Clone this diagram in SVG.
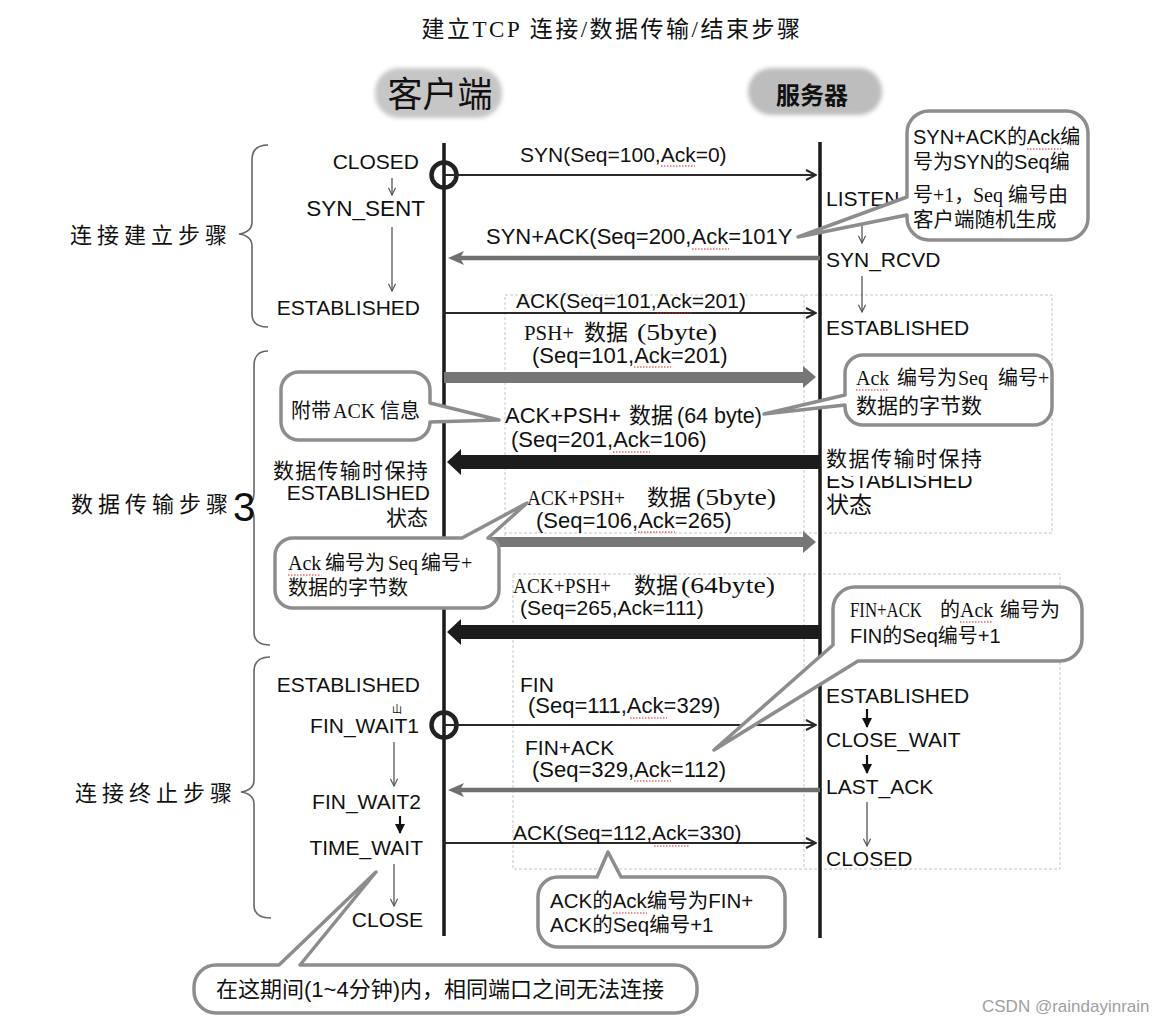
<svg xmlns="http://www.w3.org/2000/svg" width="1171" height="1028" viewBox="0 0 1171 1028">
<defs>
<style>
text{font-family:"Liberation Sans",Arial,"Noto Sans CJK SC",sans-serif;fill:#111}
.sf{font-family:"Liberation Serif","Times New Roman","Noto Sans CJK SC",serif}
.st{font-size:21px}
.m{font-size:21px}
.m2{font-size:22px}
.co{font-size:20px}
.life{stroke:#1a1a1a;stroke-width:3.5}
.thin{stroke:#2a2a2a;stroke-width:2;fill:none}
.gmsg{stroke:#707070;stroke-width:4.5;fill:none}
.sarr{stroke:#555;stroke-width:1.3;fill:none}
.barr{stroke:#111;stroke-width:2.2;fill:none}
.callout{fill:#fff;stroke:#8d8d8d;stroke-width:3.5;stroke-linejoin:round}
.brace{fill:none;stroke:#666;stroke-width:1.6}
.dash{fill:none;stroke:#c4c4c4;stroke-width:1;stroke-dasharray:3 2}
.red{fill:none;stroke:#d22;stroke-width:1.2;stroke-dasharray:1.5 1.5}
.ring{fill:none;stroke:#222;stroke-width:4.5}
</style>
<marker id="chev" viewBox="0 0 12 12" refX="11" refY="6" markerWidth="12" markerHeight="12" markerUnits="userSpaceOnUse" orient="auto"><path d="M1,1 L11,6 L1,11" fill="none" stroke="#2a2a2a" stroke-width="2"/></marker>
<marker id="tri" viewBox="0 0 16 14" refX="6" refY="7" markerWidth="16" markerHeight="14" markerUnits="userSpaceOnUse" orient="auto"><path d="M0,0 L16,7 L0,14 L4,7 Z" fill="#707070"/></marker>
<marker id="schev" viewBox="0 0 10 10" refX="9" refY="5" markerWidth="9" markerHeight="9" markerUnits="userSpaceOnUse" orient="auto"><path d="M1,1 L9,5 L1,9" fill="none" stroke="#555" stroke-width="1.3"/></marker>
<marker id="btri" viewBox="0 0 10 10" refX="9" refY="5" markerWidth="10" markerHeight="10" markerUnits="userSpaceOnUse" orient="auto"><path d="M0,0 L10,5 L0,10 Z" fill="#111"/></marker>
<filter id="soft" x="-10%" y="-20%" width="120%" height="140%"><feGaussianBlur stdDeviation="2"/></filter>
</defs>
<rect width="1171" height="1028" fill="#fff"/>

<g id="title"><text class="sf" x="612" y="37" text-anchor="middle" font-size="23" letter-spacing="2.5">建立TCP 连接/数据传输/结束步骤</text></g>

<g id="client-header">
<rect x="375" y="68" width="127" height="50" rx="24" fill="#c6c6c6" filter="url(#soft)"/>
<text x="440" y="107" text-anchor="middle" font-size="35" style="font-family:'Noto Sans CJK SC',sans-serif">客户端</text>
</g>
<g id="server-header">
<rect x="748" y="68" width="134" height="47" rx="23" fill="#bdbdbd" filter="url(#soft)"/>
<text x="812" y="104" text-anchor="middle" font-size="24" font-weight="bold" style="font-family:'Noto Sans CJK SC',sans-serif">服务器</text>
</g>

<g id="selection-boxes">
<rect class="dash" x="505" y="295" width="547" height="238"/>
<line class="dash" x1="804" y1="295" x2="804" y2="543"/>
<polyline class="dash" points="505,533 505,543 804,543"/>
<rect class="dash" x="513" y="574" width="547" height="295"/>
<line class="dash" x1="804" y1="574" x2="804" y2="869"/>
</g>

<g id="brackets">
<path class="brace" d="M268,145 C257,145 252,150 252,160 L252,222 C252,230 246,233 239,234 C246,235 252,238 252,246 L252,314 C252,323 257,327 268,327"/>
<path class="brace" d="M268,351 C259,351 254,356 254,366 L254,494 C254,502 248,505 244,506 C248,507 254,510 254,518 L254,632 C254,641 259,645 270,645"/>
<path class="brace" d="M270,657 C260,657 254,662 254,672 L254,780 C254,788 248,791 241,792 C248,793 254,796 254,804 L254,905 C254,914 260,918 271,918"/>
<text x="70" y="243" font-size="22" letter-spacing="5">连接建立步骤</text>
<text x="71" y="512" font-size="22" letter-spacing="5">数据传输步骤</text>
<text x="233" y="521" font-size="40">3</text>
<text x="75" y="801" font-size="22" letter-spacing="5">连接终止步骤</text>
</g>

<g id="connectors">
<line class="life" x1="444" y1="143" x2="444" y2="936"/>
<line class="life" x1="820" y1="142" x2="820" y2="938"/>
<circle class="ring" cx="444" cy="175" r="12.5"/>
<circle class="ring" cx="444" cy="725" r="12.5"/>
<line class="thin" x1="444" y1="175" x2="816" y2="175" marker-end="url(#chev)"/>
<line class="gmsg" x1="820" y1="258" x2="458" y2="258" marker-end="url(#tri)"/>
<line class="thin" x1="444" y1="313" x2="816" y2="313" marker-end="url(#chev)"/>
<path d="M444,372 H803 V366 L816,377 L803,388 V383 H444 Z" fill="#767676"/>
<path d="M820,455 H461 V449 L447,462 L461,475 V469 H820 Z" fill="#1c1c1c"/>
<path d="M444,537 H803 V531 L816,542 L803,553 V547 H444 Z" fill="#767676"/>
<path d="M820,625 H461 V619 L447,632 L461,645 V639 H820 Z" fill="#1c1c1c"/>
<line class="thin" x1="444" y1="725" x2="816" y2="725" marker-end="url(#chev)"/>
<line class="gmsg" x1="820" y1="790" x2="458" y2="790" marker-end="url(#tri)"/>
<line class="thin" x1="444" y1="843" x2="816" y2="843" marker-end="url(#chev)"/>
<line class="sarr" x1="392" y1="178" x2="392" y2="195" marker-end="url(#schev)"/>
<line class="sarr" x1="392" y1="227" x2="392" y2="291" marker-end="url(#schev)"/>
<line class="sarr" x1="394" y1="742" x2="394" y2="786" marker-end="url(#schev)"/>
<line class="barr" x1="400" y1="816" x2="400" y2="833" marker-end="url(#btri)"/>
<line class="sarr" x1="394" y1="864" x2="394" y2="906" marker-end="url(#schev)"/>
<line class="sarr" x1="862" y1="225" x2="862" y2="243" marker-end="url(#schev)"/>
<line class="sarr" x1="862" y1="276" x2="862" y2="312" marker-end="url(#schev)"/>
<line class="barr" x1="867" y1="709" x2="867" y2="727" marker-end="url(#btri)"/>
<line class="barr" x1="867" y1="755" x2="867" y2="773" marker-end="url(#btri)"/>
<line class="sarr" x1="867" y1="802" x2="867" y2="846" marker-end="url(#schev)"/>
</g>

<g id="message-labels">
<text class="m" x="520" y="162">SYN(Seq=100,Ack=0)</text>
<text class="m2" x="486" y="244">SYN+ACK(Seq=200,Ack=101Y</text>
<text class="m" x="516" y="308">ACK(Seq=101,Ack=201)</text>
<text class="sf" x="524" y="340" font-size="22" textLength="50" lengthAdjust="spacingAndGlyphs">PSH+</text>
<text x="584" y="340" font-size="22">数据</text>
<text class="sf" x="637" y="340" font-size="23" textLength="80" lengthAdjust="spacingAndGlyphs">(5byte)</text>
<text class="m2" x="532" y="363">(Seq=101,Ack=201)</text>
<text y="423"><tspan x="505" font-size="22">ACK+PSH+</tspan><tspan x="629" font-size="22">数据</tspan><tspan x="677" font-size="21.5">(64 byte)</tspan></text>
<text class="m2" x="511" y="447">(Seq=201,Ack=106)</text>
<text class="sf" x="527" y="505" font-size="22" textLength="98" lengthAdjust="spacingAndGlyphs">ACK+PSH+</text>
<text x="647" y="505" font-size="22">数据</text>
<text class="sf" x="696" y="505" font-size="23" textLength="80" lengthAdjust="spacingAndGlyphs">(5byte)</text>
<text class="m2" x="536" y="528">(Seq=106,Ack=265)</text>
<text class="sf" x="513" y="593" font-size="22" textLength="98" lengthAdjust="spacingAndGlyphs">ACK+PSH+</text>
<text x="634" y="593" font-size="22">数据</text>
<text class="sf" x="681" y="593" font-size="23" textLength="94" lengthAdjust="spacingAndGlyphs">(64byte)</text>
<text class="m" x="520" y="615">(Seq=265,Ack=111)</text>
<text class="m" x="520" y="692">FIN</text>
<text class="m2" x="528" y="713">(Seq=111,Ack=329)</text>
<text class="m" x="525" y="755">FIN+ACK</text>
<text class="m2" x="532" y="777">(Seq=329,Ack=112)</text>
<text class="m" x="513" y="840">ACK(Seq=112,Ack=330)</text>
<path class="red" d="M661,166 H695 M692,249 H729 M657,313 H691 M634,367 H671 M613,452 H650 M638,532 H675 M630,718 H667 M634,781 H671 M654,846 H689"/>
</g>

<g id="client-states" text-anchor="end">
<text class="st" x="419" y="169">CLOSED</text>
<text x="425" y="216" font-size="22.5">SYN_SENT</text>
<text class="st" x="420" y="315">ESTABLISHED</text>
<text x="429" y="478" font-size="21" letter-spacing="1.3">数据传输时保持</text>
<text class="st" x="430" y="500">ESTABLISHED</text>
<text class="st" x="428" y="525">状态</text>
<text class="st" x="420" y="692">ESTABLISHED</text>
<text x="402" y="713" font-size="10">山</text>
<text class="st" x="419" y="733">FIN_WAIT1</text>
<text class="st" x="421" y="809">FIN_WAIT2</text>
<text class="st" x="423" y="855">TIME_WAIT</text>
<text class="st" x="423" y="927">CLOSE</text>
</g>

<g id="server-states">
<text class="st" x="826" y="206">LISTEN</text>
<text class="st" x="826" y="267">SYN_RCVD</text>
<text class="st" x="826" y="335">ESTABLISHED</text>
<text x="826" y="488" font-size="21.5">ESTABLISHED</text>
<rect x="824" y="450" width="172" height="26" fill="#fff"/>
<text x="826" y="466" font-size="21" letter-spacing="1.5">数据传输时保持</text>
<text x="826" y="513" font-size="23">状态</text>
<text class="st" x="826" y="703">ESTABLISHED</text>
<text class="st" x="826" y="747">CLOSE_WAIT</text>
<text class="st" x="826" y="794">LAST_ACK</text>
<text class="st" x="826" y="866">CLOSED</text>
</g>

<g id="callout-syn-ack">
<path class="callout" d="M930,111 H1066 A22,22 0 0 1 1088,133 V218 A22,22 0 0 1 1066,240 H929 A22,22 0 0 1 907,218 V215 L798,237 L907,197 V133 A22,22 0 0 1 930,111 Z"/>
<text class="co" x="913" y="144">SYN+ACK的Ack编</text>
<text class="co" x="913" y="169">号为SYN的Seq编</text>
<text class="co" y="202"><tspan x="913">号</tspan><tspan class="sf" x="933">+1，</tspan><tspan class="sf" x="973">Seq</tspan><tspan x="1008">编号由</tspan></text>
<text x="913" y="227" font-size="20.5">客户端随机生成</text>
<path class="red" d="M1027,149 H1061"/>
</g>

<g id="callout-ack-info">
<path class="callout" d="M299,372 H412 A18,18 0 0 1 430,390 V403 L499,420 L430,422 V422 A18,18 0 0 1 412,440 H299 A18,18 0 0 1 281,422 V390 A18,18 0 0 1 299,372 Z"/>
<text class="co" y="418"><tspan x="291">附带</tspan><tspan class="sf" x="333">ACK</tspan><tspan x="380">信息</tspan></text>
</g>

<g id="callout-ack-num-1">
<path class="callout" d="M863,355 H1034 A18,18 0 0 1 1052,373 V407 A18,18 0 0 1 1034,425 H863 A18,18 0 0 1 845,407 V405 L764,414 L845,395 V373 A18,18 0 0 1 863,355 Z"/>
<text class="co" y="385"><tspan class="sf" x="856">Ack</tspan><tspan x="897">编号为</tspan><tspan class="sf" x="958">Seq</tspan><tspan x="998">编号</tspan><tspan class="sf" x="1038">+</tspan></text>
<text x="856" y="413" font-size="21">数据的字节数</text>
<path class="red" d="M856,390 H889"/>
</g>

<g id="callout-ack-num-2">
<path class="callout" d="M293,538 H462 L527,503 L488,538 A11,11 0 0 1 499,549 V590 A18,18 0 0 1 481,608 H293 A18,18 0 0 1 275,590 V556 A18,18 0 0 1 293,538 Z"/>
<text class="co" y="570"><tspan class="sf" x="288">Ack</tspan><tspan x="325">编号为</tspan><tspan class="sf" x="388">Seq</tspan><tspan x="421">编号</tspan><tspan class="sf" x="461">+</tspan></text>
<text class="co" x="288" y="595">数据的字节数</text>
<path class="red" d="M288,575 H320"/>
</g>

<g id="callout-fin-ack">
<path class="callout" d="M855,587 H1060 A22,22 0 0 1 1082,609 V639 A22,22 0 0 1 1060,661 H858 L714,750 L833,645 V609 A22,22 0 0 1 855,587 Z"/>
<text class="sf" x="850" y="617" font-size="20" textLength="72" lengthAdjust="spacingAndGlyphs">FIN+ACK</text>
<text y="617" font-size="20"><tspan x="940">的</tspan><tspan class="sf" x="960">Ack</tspan><tspan x="1000">编号为</tspan></text>
<text class="co" x="850" y="643">FIN的Seq编号+1</text>
<path class="red" d="M960,622 H993"/>
</g>

<g id="callout-last-ack">
<path class="callout" d="M558,877 H597 L608,852 L621,877 H765 A20,20 0 0 1 785,897 V927 A20,20 0 0 1 765,947 H558 A20,20 0 0 1 538,927 V897 A20,20 0 0 1 558,877 Z"/>
<text x="550" y="908" font-size="20.5">ACK的Ack编号为FIN+</text>
<text x="550" y="932" font-size="20.5">ACK的Seq编号+1</text>
<path class="red" d="M613,913 H647"/>
</g>

<g id="callout-time-wait">
<path class="callout" d="M216,965 H279 L376,872 L300,965 H675 A22,22 0 0 1 697,987 V991 A22,22 0 0 1 675,1013 H216 A22,22 0 0 1 194,991 V987 A22,22 0 0 1 216,965 Z"/>
<text x="216" y="997" font-size="22">在这期间(1~4分钟)内，相同端口之间无法连接</text>
</g>

<g id="watermark"><text x="982" y="1012" font-size="17" style="fill:#a0a0a0">CSDN @raindayinrain</text></g>
</svg>
